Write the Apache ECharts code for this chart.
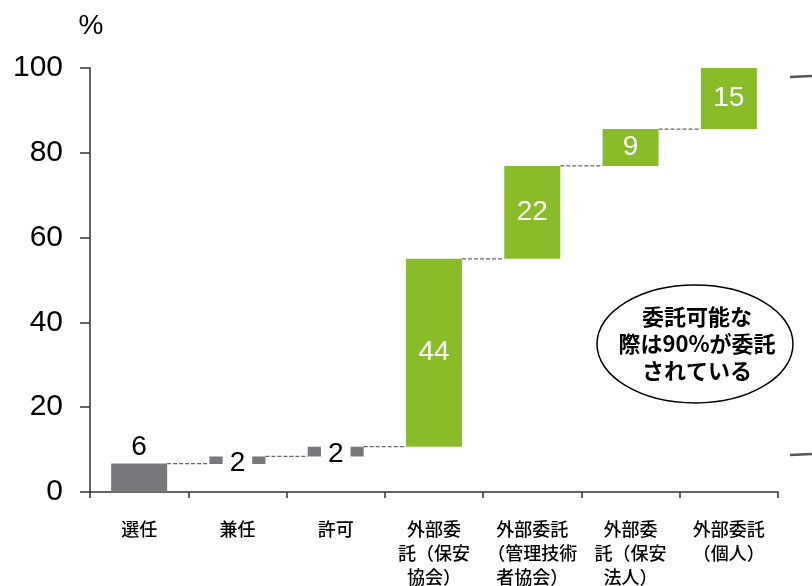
<!DOCTYPE html>
<html><head><meta charset="utf-8">
<script src="https://cdn.jsdelivr.net/npm/echarts@6/dist/echarts.min.js"></script>
<style>html,body{margin:0;padding:0;background:#fff}#c{width:812px;height:586px}</style>
</head><body><div id="c"></div>
<script>
const categories = ['選任','兼任','許可','外部委託（保安協会）','外部委託（管理技術者協会）','外部委託（保安法人）','外部委託（個人）'];
const axisLabels = ['選任','兼任','許可','外部委\n託（保安\n協会）','外部委託\n（管理技術\n者協会）','外部委\n託（保安\n法人）','外部委託\n（個人）'];
const baseValues = [0, 6.6, 8.4, 10.7, 55, 76.9, 85.6];
const barHeights = [6.7, 1.8, 2.3, 44.3, 21.9, 8.7, 14.4];
const labelValues = [6, 2, 2, 44, 22, 9, 15];
const yTicks = [0, 20, 40, 60, 80, 100];

const GREY = '#76787b', GREEN = '#89bc29';
const BAR_W = 56;
const chart = echarts.init(document.getElementById('c'));
const tops = baseValues.map((b,i)=>b+barHeights[i]);

const barData = barHeights.map((h,i)=>{
  const grey = i < 3;
  const d = {value:h, itemStyle:{color: grey?GREY:GREEN}};
  if (i === 0) {
    d.label = {show:true, position:'top', distance:2, color:'#000', fontSize:28, formatter:String(labelValues[i])};
  } else if (i < 3) {
    d.label = {show:true, position:'inside', color:'#000', fontSize:28, backgroundColor:'#fff', padding:[0,7,0,7], lineHeight:30, formatter:String(labelValues[i]), offset:[0,3]};
  } else {
    d.label = {show:true, position:'inside', color:'#fff', fontSize:28, formatter:String(labelValues[i])};
  }
  return d;
});

chart.setOption({
  animation:false,
  grid:{left:90, right:34, top:68, bottom:94, outerBoundsMode:'none', containLabel:false},
  xAxis:{type:'category', data:categories,
    axisLine:{lineStyle:{color:'#333', width:1.5}},
    axisTick:{show:true, length:6, lineStyle:{color:'#333', width:1.5}},
    axisLabel:{interval:0, margin:25, fontSize:18, lineHeight:24, color:'#000', fontWeight:500, fontFamily:'Noto Sans CJK JP',
      formatter:(v,i)=>axisLabels[i]}},
  yAxis:{type:'value', min:0, max:100, interval:20,
    axisLine:{show:true, lineStyle:{color:'#333', width:1.5}},
    axisTick:{show:true, length:10, inside:false, lineStyle:{color:'#333', width:1.5}},
    splitLine:{show:false},
    axisLabel:{fontSize:30, color:'#000', margin:27, fontFamily:'Liberation Sans',
      formatter:v=>yTicks.includes(v)?String(v):''}},
  series:[
    {type:'bar', stack:'w', data:baseValues, barWidth:BAR_W, itemStyle:{color:'transparent'}, silent:true},
    {type:'bar', stack:'w', data:barData, barWidth:BAR_W, label:{fontFamily:'Liberation Sans'}},
    {type:'custom', data:tops.slice(0,6).map((t,i)=>[i,t]), z:1,
      renderItem:(params, api)=>{
        const i = api.value(0), v = api.value(1);
        const p1 = api.coord([i, v]), p2 = api.coord([i+1, v]);
        return {type:'line', shape:{x1:p1[0]+BAR_W/2, y1:p1[1], x2:p2[0]-BAR_W/2, y2:p2[1]},
          style:{stroke:'#666', lineWidth:1.3, lineDash:[4,2]}};
      }}
  ],
  graphic:[
    {type:'text', x:91, y:26, style:{text:'%', fontSize:28, fill:'#000', fontFamily:'Liberation Sans', align:'center', verticalAlign:'middle'}},
    {type:'ellipse', shape:{cx:695, cy:344, rx:98, ry:59}, style:{fill:'#fff', stroke:'#000', lineWidth:1.5}},
    {type:'text', x:697, y:344, style:{text:'委託可能な\n際は90%が委託\nされている', fontSize:22, fontWeight:'bold', lineHeight:27,
      fill:'#000', align:'center', verticalAlign:'middle', fontFamily:'Noto Sans CJK JP'}},
    {type:'line', shape:{x1:790, y1:77, x2:812, y2:76}, style:{stroke:'#555', lineWidth:2.5}},
    {type:'line', shape:{x1:790, y1:455, x2:812, y2:454}, style:{stroke:'#555', lineWidth:2.5}}
  ]
});
</script></body></html>
